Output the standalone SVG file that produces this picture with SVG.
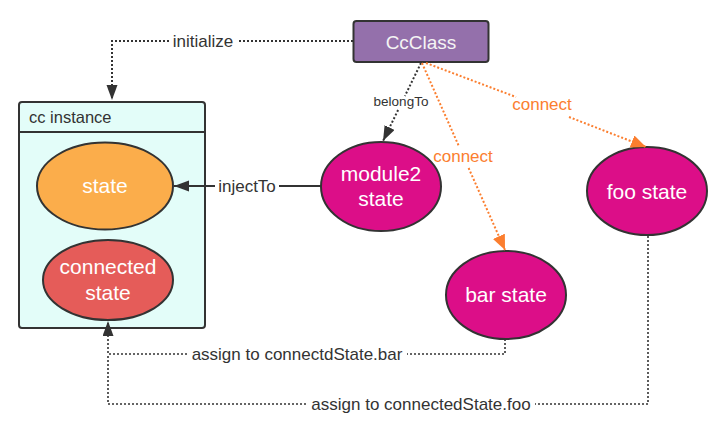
<svg xmlns="http://www.w3.org/2000/svg" width="728" height="432" viewBox="0 0 728 432">
<defs>
<marker id="ah" markerUnits="userSpaceOnUse" markerWidth="16" markerHeight="12" refX="15" refY="5.5" orient="auto"><path d="M0,0 L15,5.5 L0,11 z" fill="#333"/></marker>
<marker id="ahO" markerUnits="userSpaceOnUse" markerWidth="16" markerHeight="14" refX="15" refY="6.5" orient="auto"><path d="M0,0 L15,6.5 L0,13 z" fill="#fb7e2f"/></marker>
<style>
text{font-family:"Liberation Sans",Arial,sans-serif}
.lbl{font-size:17px;fill:#333;text-anchor:middle}
.nt{font-size:21px;fill:#fff;text-anchor:middle}
.or{font-size:17px;fill:#fb7e2f;text-anchor:middle}
.dot{fill:none;stroke:#333;stroke-width:2;stroke-dasharray:2 2}
.thin{fill:none;stroke:#333;stroke-width:1.6;stroke-dasharray:2 2}
.odot{fill:none;stroke:#fb7e2f;stroke-width:2;stroke-dasharray:2 2}
.node{stroke:#333;stroke-width:2}
</style>
</defs>
<rect width="728" height="432" fill="#fff"/>
<g id="ccclass">
<rect class="node" x="353.5" y="21" width="135" height="41" rx="3" fill="#9470ab"/>
<text class="nt" x="421" y="49" style="font-size:19px;fill:#f4f4f4">CcClass</text>
</g>
<g id="cc-instance">
<rect class="node" x="19" y="102" width="186" height="226" rx="3" fill="#e3fdf9"/>
<line x1="19" y1="132" x2="205" y2="132" stroke="#333" stroke-width="2"/>
<text x="29" y="123" style="font-size:16.5px;fill:#333">cc instance</text>
</g>
<g id="state">
<ellipse class="node" cx="105" cy="186" rx="68" ry="43.5" fill="#fbad4b"/>
<text class="nt" x="105" y="193">state</text>
</g>
<g id="connected-state">
<ellipse class="node" cx="108" cy="280" rx="65" ry="40" fill="#e55c59"/>
<text class="nt" x="108" y="274">connected</text>
<text class="nt" x="108" y="300">state</text>
</g>
<g id="module2-state">
<ellipse class="node" cx="381" cy="186.5" rx="60" ry="44.5" fill="#dc0e88"/>
<text class="nt" x="381" y="181">module2</text>
<text class="nt" x="381" y="206">state</text>
</g>
<g id="foo-state">
<ellipse class="node" cx="647" cy="191" rx="60" ry="44" fill="#dc0e88"/>
<text class="nt" x="647" y="199">foo state</text>
</g>
<g id="bar-state">
<ellipse class="node" cx="506" cy="295" rx="60" ry="44" fill="#dc0e88"/>
<text class="nt" x="506" y="302">bar state</text>
</g>
<g id="connectors">
<path class="dot" d="M353,41 H237"/>
<path class="dot" d="M169,41 H112 V100" marker-end="url(#ah)"/>
<path class="dot" d="M421,63 L404.9,96"/>
<path class="dot" d="M398.1,110 L383,141" marker-end="url(#ah)"/>
<path class="odot" d="M422,63 L458.8,146"/>
<path class="odot" d="M468.6,168 L505,250" marker-end="url(#ahO)"/>
<path class="odot" d="M426,63 L516,97"/>
<path class="odot" d="M569,117 L646,147" marker-end="url(#ahO)"/>
<path fill="none" stroke="#333" stroke-width="2" d="M321,186 H279"/>
<path fill="none" stroke="#333" stroke-width="2" d="M215,186 H174" marker-end="url(#ah)"/>
<path class="thin" d="M505,339 V354 H407"/>
<path class="thin" d="M187,354 H108 V321" marker-end="url(#ah)"/>
<path class="thin" d="M648,236 V404 H535"/>
<path class="thin" d="M306,404 H108 V354"/>
<text class="lbl" x="203" y="47">initialize</text>
<text class="lbl" x="401" y="106" style="font-size:13.5px">belongTo</text>
<text class="or" x="542" y="110">connect</text>
<text class="or" x="463" y="162">connect</text>
<text class="lbl" x="247" y="192">injectTo</text>
<text class="lbl" x="297" y="360">assign to connectdState.bar</text>
<text class="lbl" x="421" y="410">assign to connectedState.foo</text>
</g>
</svg>
